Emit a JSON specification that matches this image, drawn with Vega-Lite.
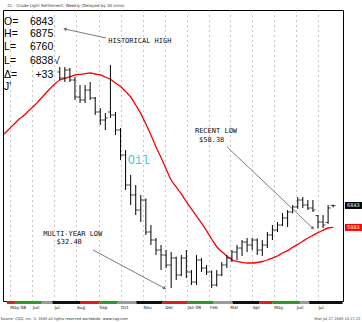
{
  "$schema": "https://vega.github.io/schema/vega-lite/v6.json",
  "width": 340,
  "height": 291,
  "autosize": {"type": "none"},
  "padding": {"left": 3, "top": 10, "right": 19, "bottom": 21},
  "background": "#ffffff",
  "title": {"text": "CL - Crude Light Settlement, Weekly (Delayed by 30 mins)", "anchor": "start", "fontSize": 4, "fontWeight": "normal", "font": "DejaVu Sans", "color": "#333333", "offset": 2, "dx": 7},
  "config": {"view": {"stroke": "#000000", "strokeWidth": 1}},
  "datasets": {
    "bars": [
      {"date": "2008-07-09", "o": 12682, "h": 12900, "l": 12332, "c": 12419},
      {"date": "2008-07-16", "o": 12419, "h": 12900, "l": 12244, "c": 12769},
      {"date": "2008-07-23", "o": 12769, "h": 12857, "l": 12244, "c": 12332},
      {"date": "2008-07-30", "o": 12332, "h": 12463, "l": 11457, "c": 11588},
      {"date": "2008-08-06", "o": 11588, "h": 12113, "l": 11326, "c": 11457},
      {"date": "2008-08-13", "o": 11457, "h": 12113, "l": 11326, "c": 11894},
      {"date": "2008-08-20", "o": 11894, "h": 12244, "l": 11457, "c": 11545},
      {"date": "2008-08-27", "o": 11545, "h": 11588, "l": 10801, "c": 10932},
      {"date": "2008-09-03", "o": 10932, "h": 11107, "l": 10363, "c": 10582},
      {"date": "2008-09-10", "o": 10582, "h": 10888, "l": 10145, "c": 10670},
      {"date": "2008-09-17", "o": 10932, "h": 12988, "l": 10670, "c": 10801},
      {"date": "2008-09-24", "o": 10801, "h": 10932, "l": 9926, "c": 10145},
      {"date": "2008-10-01", "o": 10145, "h": 10232, "l": 8833, "c": 9051},
      {"date": "2008-10-08", "o": 9051, "h": 9270, "l": 7520, "c": 7739},
      {"date": "2008-10-15", "o": 7739, "h": 8177, "l": 6864, "c": 7302},
      {"date": "2008-10-22", "o": 7302, "h": 7739, "l": 6427, "c": 6646},
      {"date": "2008-10-29", "o": 6646, "h": 7302, "l": 6120, "c": 7083},
      {"date": "2008-11-05", "o": 7083, "h": 7150, "l": 5551, "c": 5683},
      {"date": "2008-11-12", "o": 5683, "h": 5989, "l": 5114, "c": 5332},
      {"date": "2008-11-19", "o": 5332, "h": 5420, "l": 4676, "c": 4895},
      {"date": "2008-11-26", "o": 4895, "h": 5114, "l": 4021, "c": 4676},
      {"date": "2008-12-03", "o": 4676, "h": 4895, "l": 4108, "c": 4240},
      {"date": "2008-12-10", "o": 4240, "h": 4807, "l": 3234, "c": 4545},
      {"date": "2008-12-17", "o": 4545, "h": 4600, "l": 3584, "c": 3802},
      {"date": "2008-12-24", "o": 3802, "h": 4676, "l": 3750, "c": 4545},
      {"date": "2008-12-31", "o": 4545, "h": 4895, "l": 3671, "c": 3933},
      {"date": "2009-01-07", "o": 3933, "h": 4021, "l": 3365, "c": 3496},
      {"date": "2009-01-14", "o": 3496, "h": 4676, "l": 3365, "c": 4458},
      {"date": "2009-01-21", "o": 4458, "h": 4545, "l": 3933, "c": 4108},
      {"date": "2009-01-28", "o": 4108, "h": 4240, "l": 3802, "c": 3933},
      {"date": "2009-02-04", "o": 3933, "h": 4000, "l": 3234, "c": 3365},
      {"date": "2009-02-11", "o": 3365, "h": 4021, "l": 3300, "c": 3802},
      {"date": "2009-02-18", "o": 3802, "h": 4371, "l": 3750, "c": 4240},
      {"date": "2009-02-25", "o": 4240, "h": 4676, "l": 4108, "c": 4545},
      {"date": "2009-03-04", "o": 4545, "h": 4895, "l": 4371, "c": 4807},
      {"date": "2009-03-11", "o": 4807, "h": 5114, "l": 4458, "c": 4982},
      {"date": "2009-03-18", "o": 4982, "h": 5332, "l": 4633, "c": 5245},
      {"date": "2009-03-25", "o": 5245, "h": 5420, "l": 4807, "c": 5114},
      {"date": "2009-04-01", "o": 5114, "h": 5420, "l": 4895, "c": 5332},
      {"date": "2009-04-08", "o": 5332, "h": 5400, "l": 4676, "c": 4895},
      {"date": "2009-04-15", "o": 4895, "h": 5332, "l": 4633, "c": 5114},
      {"date": "2009-04-22", "o": 5114, "h": 5683, "l": 4982, "c": 5551},
      {"date": "2009-04-29", "o": 5551, "h": 5989, "l": 5332, "c": 5770},
      {"date": "2009-05-06", "o": 5770, "h": 6120, "l": 5683, "c": 5989},
      {"date": "2009-05-13", "o": 5989, "h": 6514, "l": 5945, "c": 6296},
      {"date": "2009-05-20", "o": 6296, "h": 6646, "l": 5901, "c": 6558},
      {"date": "2009-05-27", "o": 6558, "h": 6864, "l": 6500, "c": 6777},
      {"date": "2009-06-03", "o": 6777, "h": 7214, "l": 6700, "c": 7083},
      {"date": "2009-06-10", "o": 7083, "h": 7214, "l": 6733, "c": 6864},
      {"date": "2009-06-17", "o": 6864, "h": 7083, "l": 6646, "c": 6733},
      {"date": "2009-06-24", "o": 6733, "h": 7083, "l": 6558, "c": 6646},
      {"date": "2009-07-01", "o": 6400, "h": 6427, "l": 5838, "c": 6120},
      {"date": "2009-07-08", "o": 6120, "h": 6427, "l": 5858, "c": 5989},
      {"date": "2009-07-15", "o": 6100, "h": 6864, "l": 6050, "c": 6733},
      {"date": "2009-07-22", "o": 6843, "h": 6875, "l": 6760, "c": 6838}
    ],
    "ma": [
      {"date": "2008-04-23", "ma": 9970}, {"date": "2008-04-30", "ma": 10189}, {"date": "2008-05-07", "ma": 10407},
      {"date": "2008-05-14", "ma": 10626}, {"date": "2008-05-21", "ma": 10801}, {"date": "2008-05-28", "ma": 11020},
      {"date": "2008-06-04", "ma": 11217}, {"date": "2008-06-11", "ma": 11457}, {"date": "2008-06-18", "ma": 11698},
      {"date": "2008-06-25", "ma": 11938}, {"date": "2008-07-02", "ma": 12157}, {"date": "2008-07-09", "ma": 12332},
      {"date": "2008-07-16", "ma": 12406}, {"date": "2008-07-23", "ma": 12476}, {"date": "2008-07-30", "ma": 12551},
      {"date": "2008-08-06", "ma": 12581}, {"date": "2008-08-13", "ma": 12607}, {"date": "2008-08-20", "ma": 12638},
      {"date": "2008-08-27", "ma": 12594}, {"date": "2008-09-03", "ma": 12551}, {"date": "2008-09-10", "ma": 12463},
      {"date": "2008-09-17", "ma": 12362}, {"date": "2008-09-24", "ma": 12201}, {"date": "2008-10-01", "ma": 12043},
      {"date": "2008-10-08", "ma": 11824}, {"date": "2008-10-15", "ma": 11588}, {"date": "2008-10-22", "ma": 11238},
      {"date": "2008-10-29", "ma": 10862}, {"date": "2008-11-05", "ma": 10407}, {"date": "2008-11-12", "ma": 9926},
      {"date": "2008-11-19", "ma": 9406}, {"date": "2008-11-26", "ma": 8942}, {"date": "2008-12-03", "ma": 8439},
      {"date": "2008-12-10", "ma": 7958}, {"date": "2008-12-17", "ma": 7652}, {"date": "2008-12-24", "ma": 7346},
      {"date": "2008-12-31", "ma": 7013}, {"date": "2009-01-07", "ma": 6690}, {"date": "2009-01-14", "ma": 6383},
      {"date": "2009-01-21", "ma": 6068}, {"date": "2009-01-28", "ma": 5736}, {"date": "2009-02-04", "ma": 5377},
      {"date": "2009-02-11", "ma": 5038}, {"date": "2009-02-18", "ma": 4815}, {"date": "2009-02-25", "ma": 4633},
      {"date": "2009-03-04", "ma": 4467}, {"date": "2009-03-11", "ma": 4397}, {"date": "2009-03-18", "ma": 4353},
      {"date": "2009-03-25", "ma": 4327}, {"date": "2009-04-01", "ma": 4327}, {"date": "2009-04-08", "ma": 4349},
      {"date": "2009-04-15", "ma": 4393}, {"date": "2009-04-22", "ma": 4458}, {"date": "2009-04-29", "ma": 4545},
      {"date": "2009-05-06", "ma": 4633}, {"date": "2009-05-13", "ma": 4764}, {"date": "2009-05-20", "ma": 4870},
      {"date": "2009-05-27", "ma": 5010}, {"date": "2009-06-03", "ma": 5141}, {"date": "2009-06-10", "ma": 5276},
      {"date": "2009-06-17", "ma": 5420}, {"date": "2009-06-24", "ma": 5538}, {"date": "2009-07-01", "ma": 5657},
      {"date": "2009-07-08", "ma": 5758}, {"date": "2009-07-15", "ma": 5858}, {"date": "2009-07-22", "ma": 5883}
    ],
    "strip": [
      {"date": "2008-04-27", "date2": "2008-05-08", "c": "r"},
      {"date": "2008-05-08", "date2": "2008-06-14", "c": "g"},
      {"date": "2008-06-14", "date2": "2008-06-29", "c": "s"},
      {"date": "2008-06-29", "date2": "2008-08-06", "c": "k"},
      {"date": "2008-08-06", "date2": "2008-09-02", "c": "r"},
      {"date": "2008-09-02", "date2": "2008-09-27", "c": "g"},
      {"date": "2008-09-27", "date2": "2008-10-23", "c": "s"},
      {"date": "2008-10-23", "date2": "2008-11-28", "c": "k"},
      {"date": "2008-11-28", "date2": "2009-01-01", "c": "r"},
      {"date": "2009-01-01", "date2": "2009-02-06", "c": "g"},
      {"date": "2009-02-06", "date2": "2009-03-05", "c": "s"},
      {"date": "2009-03-05", "date2": "2009-04-11", "c": "k"},
      {"date": "2009-04-11", "date2": "2009-04-29", "c": "r"},
      {"date": "2009-04-29", "date2": "2009-06-06", "c": "g"},
      {"date": "2009-06-06", "date2": "2009-06-19", "c": "s"},
      {"date": "2009-06-19", "date2": "2009-08-04", "c": "k"}
    ],
    "arrows": [
      {"id": "hh", "date": "2008-07-16", "v": 14563, "date2": "2008-09-11", "v2": 14169},
      {"id": "rl", "date": "2009-06-24", "v": 5845, "date2": "2009-02-25", "v2": 9414},
      {"id": "myl", "date": "2008-12-01", "v": 3221, "date2": "2008-08-24", "v2": 4895}
    ],
    "notes": [
      {"date": "2008-09-14", "v": 14038, "text": "HISTORICAL HIGH", "kind": "annL"},
      {"date": "2009-02-10", "v": 10101, "text": "RECENT LOW", "kind": "annC"},
      {"date": "2009-02-04", "v": 9707, "text": "$58.38", "kind": "annC"},
      {"date": "2008-07-27", "v": 5596, "text": "MULTI-YEAR LOW", "kind": "annC"},
      {"date": "2008-07-22", "v": 5246, "text": "$32.40", "kind": "annC"},
      {"date": "2008-10-26", "v": 8833, "text": "Oil", "kind": "oil"},
      {"date": "2008-04-23", "v": 14882, "text": "O=", "kind": "roL"},
      {"date": "2008-04-23", "v": 14344, "text": "H=", "kind": "roL"},
      {"date": "2008-04-23", "v": 13762, "text": "L=", "kind": "roL"},
      {"date": "2008-04-23", "v": 13176, "text": "L=", "kind": "roL"},
      {"date": "2008-04-23", "v": 12551, "text": "Δ=", "kind": "roL"},
      {"date": "2008-04-23", "v": 12039, "text": "J'", "kind": "roL"},
      {"date": "2008-06-30", "v": 14882, "text": "6843", "kind": "roV"},
      {"date": "2008-06-30", "v": 14344, "text": "6875", "kind": "roV"},
      {"date": "2008-06-30", "v": 13762, "text": "6760", "kind": "roV"},
      {"date": "2008-06-30", "v": 13176, "text": "6838", "kind": "roV"},
      {"date": "2008-06-30", "v": 12551, "text": "+33", "kind": "roV"},
      {"date": "2008-07-01", "v": 13176, "text": "√", "kind": "roC"},
      {"date": "2008-04-18", "v": 1878, "text": "Source: CQG, Inc. © 2009 All rights reserved worldwide. www.cqg.com", "kind": "footL"},
      {"date": "2009-08-29", "v": 1878, "text": "Mon Jul 27 2009 15:27:22", "kind": "footR"}
    ],
    "last": [
      {"date": "2009-08-19", "v": 6843, "text": "6843", "kind": "price"},
      {"date": "2009-08-19", "v": 5883, "text": "5883", "kind": "ma"}
    ]
  },
  "encoding": {
    "x": {
      "field": "date", "type": "temporal", "title": null,
      "scale": {"domain": [{"year": 2008, "month": 4, "date": 21, "hours": 12}, {"year": 2009, "month": 8, "date": 4, "hours": 14}], "nice": false},
      "axis": {
        "orient": "bottom",
        "values": [
          {"year": 2008, "month": 5, "date": 1}, {"year": 2008, "month": 6, "date": 1}, {"year": 2008, "month": 7, "date": 1},
          {"year": 2008, "month": 8, "date": 1}, {"year": 2008, "month": 9, "date": 1}, {"year": 2008, "month": 10, "date": 1},
          {"year": 2008, "month": 11, "date": 1}, {"year": 2008, "month": 12, "date": 1}, {"year": 2009, "month": 1, "date": 1},
          {"year": 2009, "month": 2, "date": 1}, {"year": 2009, "month": 3, "date": 1}, {"year": 2009, "month": 4, "date": 1},
          {"year": 2009, "month": 5, "date": 1}, {"year": 2009, "month": 6, "date": 1}, {"year": 2009, "month": 7, "date": 1}
        ],
        "labelExpr": "month(datum.value) == 0 || (month(datum.value) == 4 && year(datum.value) == 2008) ? timeFormat(datum.value, '%b %y') : timeFormat(datum.value, '%b')",
        "labelAlign": "left", "labelBaseline": "top", "labelFontSize": 4.3, "labelFont": "DejaVu Sans", "labelColor": "#111111",
        "labelPadding": 4, "ticks": false, "domain": false, "grid": true, "gridColor": "#8c8c8c", "gridDash": [1, 4],
        "labelOverlap": false, "labelFlush": false
      }
    }
  },
  "layer": [
    {
      "data": {"name": "strip"},
      "mark": {"type": "rect"},
      "encoding": {
        "x2": {"field": "date2"},
        "y": {"datum": 2534, "type": "quantitative", "scale": {"domain": [2665, 15394], "nice": false, "zero": false}, "axis": null},
        "y2": {"datum": 2665},
        "color": {"field": "c", "type": "nominal", "scale": {"domain": ["r", "g", "s", "k"], "range": ["#d92020", "#2a9a2a", "#9a9a9a", "#111111"]}, "legend": null}
      }
    },
    {
      "data": {"name": "arrows"},
      "mark": {"type": "rule", "color": "#6d6d6d", "strokeWidth": 0.9},
      "encoding": {
        "x2": {"field": "date2"},
        "y": {"field": "v", "type": "quantitative", "scale": {"domain": [2665, 15394], "nice": false, "zero": false}, "axis": null},
        "y2": {"field": "v2"}
      }
    },
    {
      "data": {"name": "ma"},
      "mark": {"type": "line", "color": "#ff0000", "strokeWidth": 1.3, "interpolate": "monotone"},
      "encoding": {
        "y": {"field": "ma", "type": "quantitative", "scale": {"domain": [2665, 15394], "nice": false, "zero": false}, "axis": null}
      }
    },
    {
      "data": {"name": "bars"},
      "mark": {"type": "rule", "color": "#000000", "strokeWidth": 1},
      "encoding": {
        "y": {
          "field": "l", "type": "quantitative", "title": null,
          "scale": {"domain": [2665, 15394], "nice": false, "zero": false},
          "axis": {
            "orient": "right", "values": [3000, 4000, 5000, 6000, 7000, 8000, 9000, 10000, 11000, 12000, 13000, 14000, 15000],
            "labelFontSize": 4.5, "labelFont": "DejaVu Sans", "labelColor": "#555555", "labelPadding": 3,
            "tickSize": 2, "tickColor": "#555555", "domainColor": "#555555", "domainDash": [1, 1],
            "grid": true, "gridColor": "#8c8c8c", "gridDash": [1, 4]
          }
        },
        "y2": {"field": "h"}
      }
    },
    {
      "data": {"name": "bars"},
      "mark": {"type": "tick", "orient": "horizontal", "color": "#000000", "size": 2.5, "thickness": 1, "xOffset": -1.25},
      "encoding": {
        "y": {"field": "o", "type": "quantitative", "scale": {"domain": [2665, 15394], "nice": false, "zero": false}, "axis": null}
      }
    },
    {
      "data": {"name": "bars"},
      "mark": {"type": "tick", "orient": "horizontal", "color": "#000000", "size": 2.5, "thickness": 1, "xOffset": 1.25},
      "encoding": {
        "y": {"field": "c", "type": "quantitative", "scale": {"domain": [2665, 15394], "nice": false, "zero": false}, "axis": null}
      }
    },
    {
      "data": {"name": "arrows"},
      "transform": [{"filter": "datum.id == 'hh'"}],
      "mark": {"type": "point", "shape": "triangle-up", "filled": true, "color": "#6d6d6d", "size": 14, "angle": 284, "opacity": 1},
      "encoding": {"y": {"field": "v", "type": "quantitative", "scale": {"domain": [2665, 15394], "nice": false, "zero": false}, "axis": null}}
    },
    {
      "data": {"name": "arrows"},
      "transform": [{"filter": "datum.id == 'rl'"}],
      "mark": {"type": "point", "shape": "triangle-up", "filled": true, "color": "#6d6d6d", "size": 14, "angle": 133, "opacity": 1},
      "encoding": {"y": {"field": "v", "type": "quantitative", "scale": {"domain": [2665, 15394], "nice": false, "zero": false}, "axis": null}}
    },
    {
      "data": {"name": "arrows"},
      "transform": [{"filter": "datum.id == 'myl'"}],
      "mark": {"type": "point", "shape": "triangle-up", "filled": true, "color": "#6d6d6d", "size": 14, "angle": 118, "opacity": 1},
      "encoding": {"y": {"field": "v", "type": "quantitative", "scale": {"domain": [2665, 15394], "nice": false, "zero": false}, "axis": null}}
    },
    {
      "data": {"name": "notes"},
      "transform": [{"filter": "datum.kind == 'annL'"}],
      "mark": {"type": "text", "align": "left", "baseline": "middle", "font": "DejaVu Sans Mono", "fontSize": 7, "color": "#111111"},
      "encoding": {"y": {"field": "v", "type": "quantitative", "scale": {"domain": [2665, 15394], "nice": false, "zero": false}, "axis": null}, "text": {"field": "text"}}
    },
    {
      "data": {"name": "notes"},
      "transform": [{"filter": "datum.kind == 'annC'"}],
      "mark": {"type": "text", "align": "center", "baseline": "middle", "font": "DejaVu Sans Mono", "fontSize": 7, "color": "#111111"},
      "encoding": {"y": {"field": "v", "type": "quantitative", "scale": {"domain": [2665, 15394], "nice": false, "zero": false}, "axis": null}, "text": {"field": "text"}}
    },
    {
      "data": {"name": "notes"},
      "transform": [{"filter": "datum.kind == 'oil'"}],
      "mark": {"type": "text", "align": "center", "baseline": "middle", "font": "Liberation Mono", "fontSize": 12, "color": "#33ccdd"},
      "encoding": {"y": {"field": "v", "type": "quantitative", "scale": {"domain": [2665, 15394], "nice": false, "zero": false}, "axis": null}, "text": {"field": "text"}}
    },
    {
      "data": {"name": "notes"},
      "transform": [{"filter": "datum.kind == 'roL' || datum.kind == 'roC'"}],
      "mark": {"type": "text", "align": "left", "baseline": "middle", "font": "Liberation Sans", "fontSize": 10.5, "color": "#000000"},
      "encoding": {"y": {"field": "v", "type": "quantitative", "scale": {"domain": [2665, 15394], "nice": false, "zero": false}, "axis": null}, "text": {"field": "text"}}
    },
    {
      "data": {"name": "notes"},
      "transform": [{"filter": "datum.kind == 'roV'"}],
      "mark": {"type": "text", "align": "right", "baseline": "middle", "font": "Liberation Sans", "fontSize": 10.5, "color": "#000000"},
      "encoding": {"y": {"field": "v", "type": "quantitative", "scale": {"domain": [2665, 15394], "nice": false, "zero": false}, "axis": null}, "text": {"field": "text"}}
    },
    {
      "data": {"name": "notes"},
      "transform": [{"filter": "datum.kind == 'footL'"}],
      "mark": {"type": "text", "align": "left", "baseline": "middle", "font": "DejaVu Sans", "fontSize": 3.6, "color": "#333333"},
      "encoding": {"y": {"field": "v", "type": "quantitative", "scale": {"domain": [2665, 15394], "nice": false, "zero": false}, "axis": null}, "text": {"field": "text"}}
    },
    {
      "data": {"name": "notes"},
      "transform": [{"filter": "datum.kind == 'footR'"}],
      "mark": {"type": "text", "align": "right", "baseline": "middle", "font": "DejaVu Sans", "fontSize": 3.6, "color": "#333333"},
      "encoding": {"y": {"field": "v", "type": "quantitative", "scale": {"domain": [2665, 15394], "nice": false, "zero": false}, "axis": null}, "text": {"field": "text"}}
    },
    {
      "data": {"name": "last"},
      "transform": [{"filter": "datum.kind == 'price'"}],
      "mark": {"type": "point", "shape": "M-1,-0.41L1,-0.41L1,0.41L-1,0.41Z", "size": 289, "filled": true, "color": "#000000", "opacity": 1},
      "encoding": {"y": {"field": "v", "type": "quantitative", "scale": {"domain": [2665, 15394], "nice": false, "zero": false}, "axis": null}}
    },
    {
      "data": {"name": "last"},
      "transform": [{"filter": "datum.kind == 'ma'"}],
      "mark": {"type": "point", "shape": "M-1,-0.41L1,-0.41L1,0.41L-1,0.41Z", "size": 289, "filled": true, "color": "#ff0000", "opacity": 1},
      "encoding": {"y": {"field": "v", "type": "quantitative", "scale": {"domain": [2665, 15394], "nice": false, "zero": false}, "axis": null}}
    },
    {
      "data": {"name": "last"},
      "mark": {"type": "text", "align": "center", "baseline": "middle", "font": "DejaVu Sans", "fontSize": 5, "color": "#ffffff"},
      "encoding": {"y": {"field": "v", "type": "quantitative", "scale": {"domain": [2665, 15394], "nice": false, "zero": false}, "axis": null}, "text": {"field": "text"}}
    }
  ]
}
